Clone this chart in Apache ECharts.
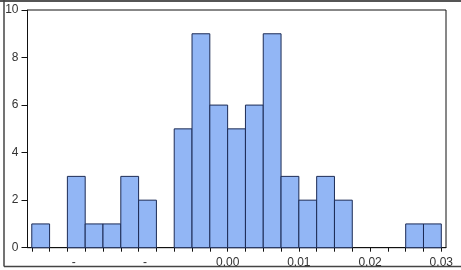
<!DOCTYPE html>
<html>
<head>
<meta charset="utf-8">
<script src="https://cdn.jsdelivr.net/npm/echarts@6/dist/echarts.min.js"></script>
<style>html,body{margin:0;padding:0;background:#fff}#c{width:461px;height:270px}</style>
</head>
<body>
<div id="c"></div>
<script>
// Histogram bins: width 0.0025 starting at -0.0275
var binStart = -0.0275;
var binWidth = 0.0025;
var counts = [1, 0, 3, 1, 1, 3, 2, 0, 5, 9, 6, 5, 6, 9, 3, 2, 3, 2, 0, 0, 0, 1, 1];
var xLabelValues = [-0.02, -0.01, 0.00, 0.01, 0.02, 0.03];
var yTicks = [0, 2, 4, 6, 8, 10];

var binEdges = [];
for (var i = 0; i <= counts.length; i++) binEdges.push(+(binStart + i * binWidth).toFixed(5));
var barData = [];
for (var j = 0; j < counts.length; j++) {
  if (counts[j] > 0) barData.push([binEdges[j], binEdges[j + 1], counts[j]]);
}

var chart = echarts.init(document.getElementById('c'), null, {renderer: 'canvas'});
var font = 'Liberation Sans, Arial, sans-serif';
chart.setOption({
  animation: false,
  backgroundColor: '#fff',
  grid: {left: 27.5, right: 15, top: 10, bottom: 22.3, show: true, borderColor: '#111', borderWidth: 1, backgroundColor: 'transparent'},
  xAxis: {
    type: 'value', min: -0.0281, max: 0.03066,
    splitLine: {show: false},
    axisLine: {show: true, onZero: false, lineStyle: {color: '#111', width: 1}},
    axisTick: {show: true, length: 4, lineStyle: {color: '#111'}, customValues: binEdges},
    axisLabel: {
      show: true, margin: 9, fontSize: 12, fontFamily: font, color: '#333',
      customValues: xLabelValues,
      formatter: function (v) {
        if (v < 0) return '{m|-}';
        return v.toFixed(2);
      },
      rich: {m: {fontSize: 12, fontFamily: font, color: '#333', padding: [0, 23, 0, 0]}}
    }
  },
  yAxis: {
    type: 'value', min: 0, max: 10, interval: 2,
    splitLine: {show: false},
    axisLine: {show: true, onZero: false, lineStyle: {color: '#111'}},
    axisTick: {show: true, length: 6, lineStyle: {color: '#111'}, customValues: yTicks},
    axisLabel: {margin: 9, fontSize: 12, fontFamily: font, color: '#333', customValues: yTicks}
  },
  graphic: [
    {type: 'line', shape: {x1: 0, y1: 1, x2: 461, y2: 1}, style: {stroke: '#555', lineWidth: 2}, z: 100},
    {type: 'line', shape: {x1: 4, y1: 0, x2: 4, y2: 266.5}, style: {stroke: '#444', lineWidth: 1.5}, z: 100},
    {type: 'line', shape: {x1: 4, y1: 266.5, x2: 461, y2: 266.5}, style: {stroke: '#444', lineWidth: 1.5}, z: 100}
  ],
  series: [{
    type: 'custom',
    data: barData,
    encode: {x: [0, 1], y: 2},
    renderItem: function (params, api) {
      var p0 = api.coord([api.value(0), api.value(2)]);
      var p1 = api.coord([api.value(1), 0]);
      return {
        type: 'rect',
        shape: {x: p0[0], y: p0[1], width: p1[0] - p0[0], height: p1[1] - p0[1]},
        style: {fill: '#92b6f5', stroke: '#1c2b55', lineWidth: 1}
      };
    }
  }]
});
</script>
</body>
</html>
